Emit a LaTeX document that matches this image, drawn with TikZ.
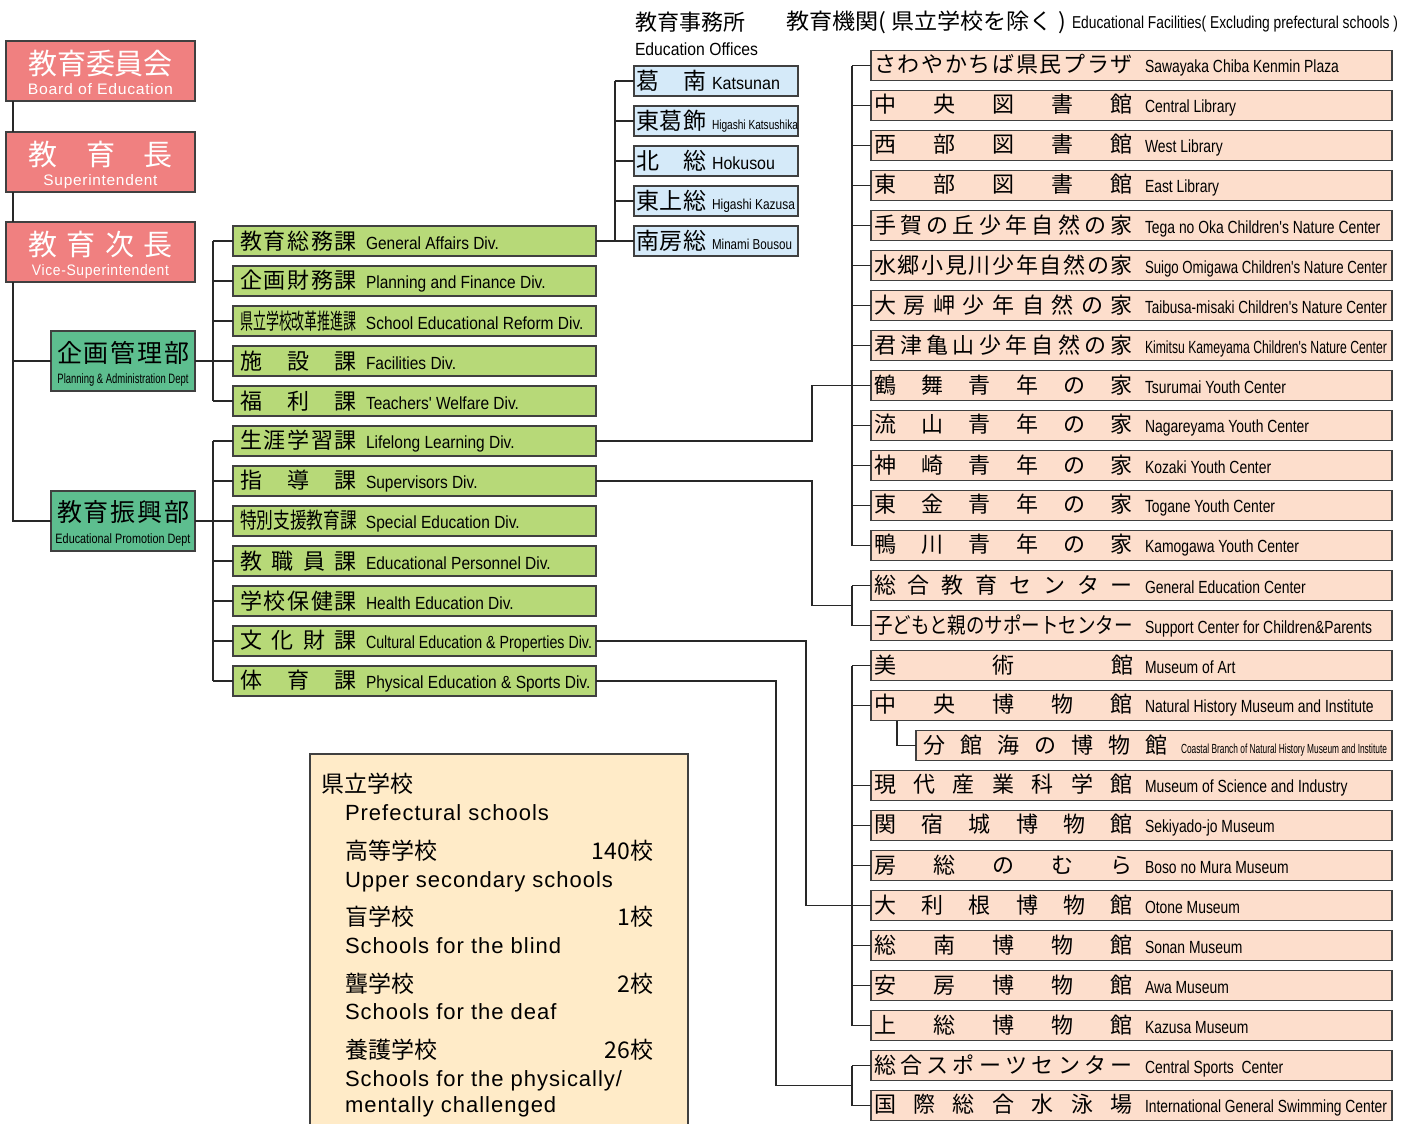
\documentclass[tikz,border=0pt]{standalone}
\usepackage{fontspec}
\usepackage{graphicx}
\usetikzlibrary{calc}
\setmainfont{Liberation Sans}
\newfontfamily\jp{Noto Sans CJK JP}
\newfontfamily\enn[FakeStretch=0.88]{Liberation Sans}
\newfontfamily\enf[FakeStretch=0.79]{Liberation Sans}
\newfontfamily\wide[LetterSpace=4.5]{Liberation Sans}
\newlength\px \setlength\px{0.5pt}
\newsavebox\tb
\newcommand\fs[1]{\fontsize{#1}{#1}\selectfont}
\newcommand\fitw[2]{\resizebox{#1\px}{\height}{#2}}
\newcommand\fitmax[2]{\sbox\tb{#2}\ifdim\wd\tb>#1\px\relax\resizebox{#1\px}{\height}{\usebox\tb}\else\usebox\tb\fi}
\makeatletter
\newcommand\sepc[1]{\sepc@a#1\@nil}
\def\sepc@a#1{#1\@ifnextchar\@nil{\sepc@end}{\hfil\sepc@a}}
\def\sepc@end\@nil{}
\makeatother
\newcommand\jfit[2]{\sbox\tb{#2}\ifdim\wd\tb>#1\px\relax\resizebox{#1\px}{\height}{\usebox\tb}\else\makebox[#1\px][s]{\expandafter\sepc\expandafter{#2}}\fi}
\newcommand\divtxt[2]{\makebox[363\px][l]{\hspace*{7\px}{\jp\fs{11pt}\jfit{117}{#1}}\hspace*{9\px}{\enn\fs{8.8pt}\fitmax{226}{#2}}}}
\newcommand\factxt[2]{\makebox[521\px][l]{\hspace*{3\px}{\jp\fs{11pt}\jfit{259}{#1}}\hspace*{12\px}{\enf\fs{8.8pt}\fitmax{242}{#2}}}}
\newcommand\offtxt[2]{\makebox[164\px][l]{\hspace*{2\px}{\jp\fs{11.5pt}\jfit{71}{#1}}\hspace*{5\px}#2}}
\definecolor{boardc}{RGB}{240,128,128}
\definecolor{deptc}{RGB}{93,190,143}
\definecolor{divc}{RGB}{183,217,120}
\definecolor{offc}{RGB}{213,234,249}
\definecolor{facc}{RGB}{253,222,204}
\definecolor{schc}{RGB}{255,235,200}
\definecolor{bordc}{RGB}{64,64,64}
\definecolor{linec}{RGB}{40,40,40}
\begin{document}
\begin{tikzpicture}[x=0.5pt,y=-0.5pt,
  box/.style={draw=bordc, line width=0.75pt, inner sep=0pt, outer sep=0pt, rectangle, text=black},
  boardbox/.style={box, fill=boardc, minimum width=94.5pt, minimum height=30pt, anchor=north west},
  deptbox/.style={box, fill=deptc, minimum width=72pt, minimum height=30pt, anchor=west},
  divbox/.style={box, fill=divc, minimum width=181.5pt, minimum height=15pt, anchor=west},
  offbox/.style={box, fill=offc, minimum width=82pt, minimum height=15pt, anchor=west},
  facbox/.style={box, fill=facc, minimum width=260.5pt, minimum height=15pt, anchor=west},
  txt/.style={inner sep=0pt, outer sep=0pt},
  wtxt/.style={txt, text=white},
  link/.style={draw=linec, line width=0.65pt}]
\useasboundingbox[fill=white] (0,0) rectangle (1415,1124);

% ---------- board column ----------
\node[boardbox] (b1) at (6,41) {};
\node[boardbox] (b2) at (6,132) {};
\node[boardbox] (b3) at (6,222) {};
\node[wtxt] (b1j) at (100.5,64) {\jp\fs{14.5pt}\jfit{145}{教育委員会}};
\node[wtxt, anchor=base] (b1e) at (100.5,94) {\wide\fs{7.6pt}\fitw{145}{Board of Education}};
\node[wtxt] (b2j) at (100.5,154.5) {\jp\fs{14.5pt}\jfit{145}{教育長}};
\node[wtxt, anchor=base] (b2e) at (100.5,185) {\wide\fs{7.6pt}\fitw{114}{Superintendent}};
\node[wtxt] (b3j) at (100.5,244.5) {\jp\fs{14.5pt}\jfit{145}{教育次長}};
\node[wtxt, anchor=base] (b3e) at (100.5,275.5) {\wide\fs{7.6pt}\fitw{137}{Vice-Superintendent}};

\node[deptbox] (p1) at (51,361) {};
\node[deptbox] (p2) at (51,521) {};
\node[txt] (p1j) at (123,352.5) {\jp\fs{12.5pt}\jfit{132}{企画管理部}};
\node[txt, anchor=base] (p1e) at (123,383) {\enn\fs{6.8pt}\fitw{131}{Planning \& Administration Dept}};
\node[txt] (p2j) at (123,512.5) {\jp\fs{12.5pt}\jfit{132}{教育振興部}};
\node[txt, anchor=base] (p2e) at (123,543) {\enn\fs{6.8pt}\fitw{135}{Educational Promotion Dept}};

% ---------- divisions ----------
\foreach \i/\jj/\ee in {1/教育総務課/General Affairs Div., 2/企画財務課/Planning and Finance Div.,
  3/県立学校改革推進課/School Educational Reform Div., 4/施設課/Facilities Div.,
  5/福利課/Teachers' Welfare Div., 6/生涯学習課/Lifelong Learning Div.,
  7/指導課/Supervisors Div., 8/特別支援教育課/Special Education Div.,
  9/教職員課/Educational Personnel Div., 10/学校保健課/Health Education Div.,
  11/文化財課/Cultural Education \& Properties Div., 12/体育課/Physical Education \& Sports Div.}
  \node[divbox] (d\i) at (233,{201+40*\i}) {\divtxt{\jj}{\ee}};

% ---------- offices ----------
\node[txt, anchor=west] (h1) at (635,22.5) {\jp\fs{11pt}教育事務所};
\node[txt, anchor=base west] (h2) at (635,55) {\enn\fs{8.8pt}\fitw{123}{Education Offices}};
\foreach \i/\jj/\ee/\w/\s in {1/葛南/Katsunan/68/8.8pt, 2/東葛飾/Higashi Katsushika/86/6.6pt,
  3/北総/Hokusou/63/8.8pt, 4/東上総/Higashi Kazusa/83/7.2pt, 5/南房総/Minami Bousou/80/7.2pt}
  \node[offbox] (o\i) at (634,{41+40*\i}) {\offtxt{\jj}{\enn\fs{\s}\fitw{\w}{\ee}}};

% ---------- facilities ----------
\node[txt, anchor=west] (h3) at (786,22) {\jp\fs{11pt}\fitw{280}{教育機関( 県立学校を除く )}};
\node[txt, anchor=base west] (h4) at (1072,29) {\enn\fs{8.6pt}\fitw{326}{Educational Facilities( Excluding prefectural schools )}};
\foreach \i/\jj/\ee in {0/さわやかちば県民プラザ/Sawayaka Chiba Kenmin Plaza,
  1/中央図書館/Central Library, 2/西部図書館/West Library, 3/東部図書館/East Library,
  4/手賀の丘少年自然の家/Tega no Oka Children's Nature Center,
  5/水郷小見川少年自然の家/Suigo Omigawa Children's Nature Center,
  6/大房岬少年自然の家/Taibusa-misaki Children's Nature Center,
  7/君津亀山少年自然の家/Kimitsu Kameyama Children's Nature Center,
  8/鶴舞青年の家/Tsurumai Youth Center, 9/流山青年の家/Nagareyama Youth Center,
  10/神崎青年の家/Kozaki Youth Center, 11/東金青年の家/Togane Youth Center,
  12/鴨川青年の家/Kamogawa Youth Center, 13/総合教育センター/General Education Center,
  14/子どもと親のサポートセンター/Support Center for Children\&Parents,
  15/美術館/Museum of Art, 16/中央博物館/Natural History Museum and Institute,
  18/現代産業科学館/Museum of Science and Industry, 19/関宿城博物館/Sekiyado-jo Museum,
  20/房総のむら/Boso no Mura Museum, 21/大利根博物館/Otone Museum,
  22/総南博物館/Sonan Museum, 23/安房博物館/Awa Museum, 24/上総博物館/Kazusa Museum,
  25/総合スポーツセンター/Central Sports~\ Center,
  26/国際総合水泳場/International General Swimming Center}
  \node[facbox] (f\i) at (871,{65.5+40*\i}) {\factxt{\jj}{\ee}};
\node[facbox, minimum width=238pt] (f17) at (916,745.5) {\makebox[476\px][l]{\hspace*{7\px}{\jp\fs{11pt}\jfit{245}{分館海の博物館}}\hspace*{13\px}{\enf\fs{6.6pt}\fitw{206}{Coastal Branch of Natural History Museum and Institute}}}};

% ---------- prefectural schools box ----------
\node[box, fill=schc, anchor=north west, minimum width=189pt, minimum height=188pt] (sch) at (310,754) {};
\node[txt, anchor=west] (s1) at (321,784) {\jp\fs{11.5pt}県立学校};
\node[txt, anchor=base west] (s2) at (345,820) {\wide\fs{11pt}Prefectural schools};
\node[txt, anchor=west] (s3) at (345,851) {\jp\fs{11.5pt}高等学校};
\node[txt, anchor=east] (s4) at (653,851) {\jp\fs{11.5pt}140校};
\node[txt, anchor=base west] (s5) at (345,887) {\wide\fs{11pt}Upper secondary schools};
\node[txt, anchor=west] (s6) at (345,917) {\jp\fs{11.5pt}盲学校};
\node[txt, anchor=east] (s7) at (653,917) {\jp\fs{11.5pt}1校};
\node[txt, anchor=base west] (s8) at (345,953) {\wide\fs{11pt}Schools for the blind};
\node[txt, anchor=west] (s9) at (345,984) {\jp\fs{11.5pt}聾学校};
\node[txt, anchor=east] (s10) at (653,984) {\jp\fs{11.5pt}2校};
\node[txt, anchor=base west] (s11) at (345,1019) {\wide\fs{11pt}Schools for the deaf};
\node[txt, anchor=west] (s12) at (345,1050) {\jp\fs{11.5pt}養護学校};
\node[txt, anchor=east] (s13) at (653,1050) {\jp\fs{11.5pt}26校};
\node[txt, anchor=base west] (s14) at (345,1086) {\wide\fs{11pt}Schools for the physically/};
\node[txt, anchor=base west] (s15) at (345,1112) {\wide\fs{11pt}mentally challenged};

% ---------- connectors ----------
\coordinate (spine) at (13,0);
\coordinate (busA) at (213,0);
\coordinate (busB) at (615,0);
\coordinate (busC) at (852,0);
\coordinate (j1) at (812,0);
\coordinate (j3) at (806,0);
\coordinate (j4) at (776,0);
\coordinate (j5) at (897,0);

\draw[link] (b1.south -| spine) -- (b2.north -| spine);
\draw[link] (b2.south -| spine) -- (b3.north -| spine);
\draw[link] (b3.south -| spine) |- (p2.west);
\draw[link] (p1.west -| spine) -- (p1.west);

\draw[link] (d1.west -| busA) -- (d5.west -| busA);
\foreach \i in {1,...,5} \draw[link] (d\i.west -| busA) -- (d\i.west);
\draw[link] (p1.east) -- (d4.west -| busA);
\draw[link] (d6.west -| busA) -- (d12.west -| busA);
\foreach \i in {6,...,12} \draw[link] (d\i.west -| busA) -- (d\i.west);
\draw[link] (p2.east) -- (d8.west -| busA);

\draw[link] (o1.west -| busB) -- (o5.west -| busB);
\foreach \i in {1,...,5} \draw[link] (o\i.west -| busB) -- (o\i.west);
\draw[link] (d1.east) -- (o5.west -| busB);

\draw[link] (f0.west -| busC) -- (f12.west -| busC);
\foreach \i in {0,...,12} \draw[link] (f\i.west -| busC) -- (f\i.west);
\draw[link] (d6.east) -| (j1 |- f8.west) -- (f8.west -| busC);

\draw[link] (f13.west -| busC) -- (f14.west -| busC);
\foreach \i in {13,14} \draw[link] (f\i.west -| busC) -- (f\i.west);
\coordinate (m2) at ($(f13.west -| busC)!0.5!(f14.west -| busC)$);
\draw[link] (d7.east) -| (j1 |- m2) -- (m2);

\draw[link] (f15.west -| busC) -- (f24.west -| busC);
\foreach \i in {15,16,18,19,20,21,22,23,24} \draw[link] (f\i.west -| busC) -- (f\i.west);
\draw[link] (d11.east) -| (j3 |- f21.west) -- (f21.west -| busC);
\draw[link] (f16.south -| j5) |- (f17.west);

\draw[link] (f25.west -| busC) -- (f26.west -| busC);
\foreach \i in {25,26} \draw[link] (f\i.west -| busC) -- (f\i.west);
\coordinate (m4) at ($(f25.west -| busC)!0.5!(f26.west -| busC)$);
\draw[link] (d12.east) -| (j4 |- m4) -- (m4);
\end{tikzpicture}
\end{document}
